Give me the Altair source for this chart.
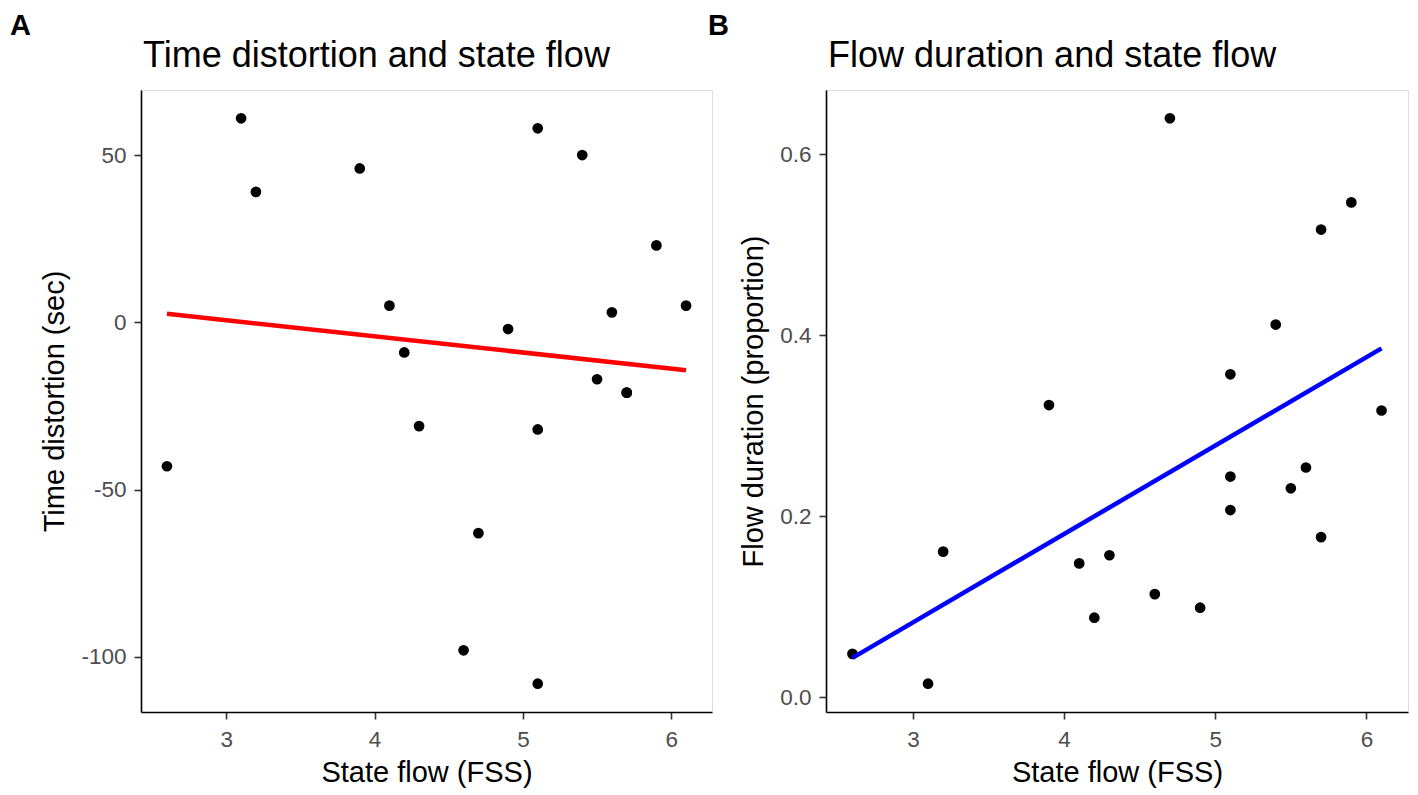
import altair as alt
import pandas as pd

# ---- data ----
state_flow = [2.6, 3.1, 3.2, 3.9, 4.1, 4.2, 4.3, 4.6, 4.7, 4.9,
              5.1, 5.1, 5.1, 5.4, 5.5, 5.6, 5.7, 5.7, 5.9, 6.1]
time_distortion = [-43, 61, 39, 46, 5, -9, -31, -98, -63, -2,
                   58, -32, -108, 50, -17, 3, -21, -21, 23, 5]
flow_duration = [0.048, 0.015, 0.161, 0.323, 0.148, 0.088, 0.157, 0.114, 0.640, 0.099,
                 0.357, 0.244, 0.207, 0.412, 0.231, 0.254, 0.517, 0.177, 0.547, 0.317]

x_ticks = [3, 4, 5, 6]
time_ticks = [-100, -50, 0, 50]
flow_ticks = [0.0, 0.2, 0.4, 0.6]

panel_titles = ["Time distortion and state flow", "Flow duration and state flow"]
panel_letters = ["A", "B"]
x_title = "State flow (FSS)"
y_titles = ["Time distortion (sec)", "Flow duration (proportion)"]

FONT = "Liberation Sans"
W_LEFT, W_RIGHT, H = 571, 582, 622

df = pd.DataFrame({"flow": state_flow, "td": time_distortion, "fd": flow_duration})


def expanded(vals):
    lo, hi = min(vals), max(vals)
    pad = (hi - lo) * 0.05
    return [lo - pad, hi + pad]


def axis(title, values, label_padding, title_padding, **kw):
    return alt.Axis(
        title=title, values=values, grid=False,
        domainColor="black", domainWidth=1.6,
        tickColor="#333333", tickWidth=1.6, tickSize=7,
        labelFont=FONT, labelFontSize=22.5, labelColor="#4D4D4D",
        labelPadding=label_padding,
        titleFont=FONT, titleFontSize=29, titleColor="black",
        titleFontWeight="normal", titlePadding=title_padding, **kw)


x_enc = alt.X("flow:Q",
              scale=alt.Scale(domain=expanded(state_flow), nice=False, zero=False),
              axis=axis(x_title, x_ticks, 9, 8, labelExpr="toString(datum.value)"))


def text_layer(txt, x, y, size, weight="normal"):
    return alt.Chart(pd.DataFrame({"t": [txt]})).mark_text(
        font=FONT, fontSize=size, fontWeight=weight, align="left",
        baseline="alphabetic", color="black"
    ).encode(text="t:N", x=alt.value(x), y=alt.value(y))


# ---- panel A ----
yA = alt.Y("td:Q",
           scale=alt.Scale(domain=expanded(time_distortion), nice=False, zero=False),
           axis=axis(y_titles[0], time_ticks, 8, 11, labelExpr="toString(datum.value)"))
ptsA = alt.Chart(df).mark_circle(size=115, color="black", opacity=1).encode(x=x_enc, y=yA)
lineA = alt.Chart(df).transform_regression("flow", "td").mark_line(
    color="#FF0000", strokeWidth=4.5).encode(x="flow:Q", y="td:Q")
left = alt.layer(
    ptsA, lineA,
    text_layer(panel_titles[0], 2, -23, 36),
    text_layer(panel_letters[0], -131, -55, 29, "bold"),
    text_layer(panel_letters[1], 567, -55, 29, "bold"),
).properties(width=W_LEFT, height=H)

# ---- panel B ----
yB = alt.Y("fd:Q",
           scale=alt.Scale(domain=expanded(flow_duration), nice=False, zero=False),
           axis=axis(y_titles[1], flow_ticks, 8, 11, format=".1f"))
ptsB = alt.Chart(df).mark_circle(size=115, color="black", opacity=1).encode(x=x_enc, y=yB)
lineB = alt.Chart(df).transform_regression("flow", "fd").mark_line(
    color="#0000FF", strokeWidth=4.5).encode(x="flow:Q", y="fd:Q")
right = alt.layer(
    ptsB, lineB,
    text_layer(panel_titles[1], 2, -23, 36),
).properties(width=W_RIGHT, height=H)

chart = alt.hconcat(left, right, spacing=9).resolve_scale(y="independent").properties(
    padding={"left": 1, "top": 3, "right": 0, "bottom": 0}
).configure_view(strokeWidth=0).configure(background="white")

chart.save("out.html", embed_options={"renderer": "svg", "actions": False})
